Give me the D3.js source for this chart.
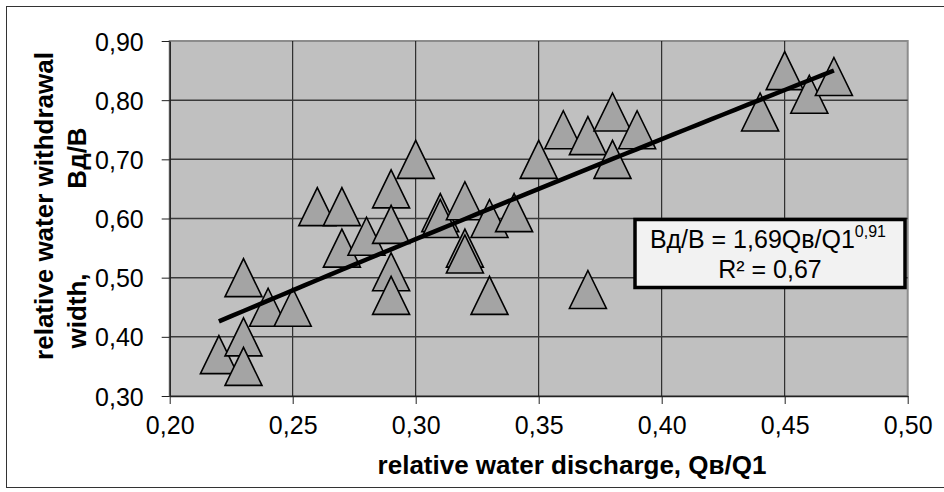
<!DOCTYPE html>
<html>
<head>
<meta charset="utf-8">
<script src="https://cdn.jsdelivr.net/npm/d3@7"></script>
<style>
  body { margin: 0; background: #fff; }
  svg { display: block; font-family: "Liberation Sans", Arial, sans-serif; }
</style>
</head>
<body>
<svg id="chart" width="944" height="492"></svg>
<script>
// data
const discharge = [0.22, 0.23, 0.23, 0.23, 0.24, 0.25, 0.26, 0.27, 0.27, 0.28, 0.29, 0.29, 0.29, 0.29,
  0.30, 0.31, 0.31, 0.32, 0.32, 0.32, 0.33, 0.33, 0.34, 0.35, 0.36, 0.37, 0.37, 0.38, 0.38, 0.39,
  0.44, 0.45, 0.46, 0.47]
const width_ratio = [0.37, 0.50, 0.40, 0.35, 0.45, 0.45, 0.62, 0.62, 0.55, 0.57, 0.65, 0.59, 0.51, 0.47,
  0.70, 0.61, 0.60, 0.63, 0.55, 0.54, 0.60, 0.47, 0.61, 0.70, 0.75, 0.74, 0.48, 0.78, 0.70, 0.75,
  0.78, 0.85, 0.81, 0.84]
const xTicks = [0.20, 0.25, 0.30, 0.35, 0.40, 0.45, 0.50]
const yTicks = [0.30, 0.40, 0.50, 0.60, 0.70, 0.80, 0.90]
// power trendline y = a * x^b
const trendA = 1.69
const trendB = 0.91
const trendRange = [0.22, 0.47]

const points = discharge.map((d, i) => ({ x: d, y: width_ratio[i] }))
const fmt = v => d3.format(".2f")(v).replace(".", ",")

const svg = d3.select('#chart')
const plotL = 169.7, plotR = 907.7, plotT = 41, plotB = 396

const x = d3.scaleLinear().domain([0.2, 0.5]).range([plotL, plotR])
const y = d3.scaleLinear().domain([0.3, 0.9]).range([plotB, plotT])

// outer frame
svg.append('rect')
  .attr('x', 6.5).attr('y', 6.5).attr('width', 960).attr('height', 481)
  .attr('fill', 'none').attr('stroke', '#333').attr('stroke-width', 1)

// plot background
svg.append('rect')
  .attr('x', plotL).attr('y', plotT).attr('width', plotR - plotL).attr('height', plotB - plotT)
  .attr('fill', '#c0c0c0').attr('stroke', '#8c8c8c').attr('stroke-width', 2)

// gridlines
svg.append('g').selectAll('line').data(xTicks.slice(1, -1)).enter().append('line')
  .attr('x1', d => x(d)).attr('x2', d => x(d))
  .attr('y1', plotT).attr('y2', plotB)
  .attr('stroke', '#111').attr('stroke-width', 1)
svg.append('g').selectAll('line').data(yTicks.slice(1, -1)).enter().append('line')
  .attr('x1', plotL).attr('x2', plotR)
  .attr('y1', d => y(d)).attr('y2', d => y(d))
  .attr('stroke', '#3a3a3a').attr('stroke-width', 1.5)

// axes
const xAxis = svg.append('g')
  .attr('transform', `translate(0, ${plotB})`)
  .call(d3.axisBottom(x).tickValues(xTicks).tickFormat(fmt).tickSize(8).tickSizeOuter(0))
const yAxis = svg.append('g')
  .attr('transform', `translate(${plotL}, 0)`)
  .call(d3.axisLeft(y).tickValues(yTicks).tickFormat(fmt).tickSize(8).tickSizeOuter(0))

svg.selectAll('.domain').attr('stroke', '#222').attr('stroke-width', 1.5)
svg.selectAll('.tick line').attr('stroke', '#222')
xAxis.selectAll('text')
  .attr('font-family', '"Liberation Sans", Arial, sans-serif')
  .attr('font-size', '25px').attr('fill', '#000')
  .attr('dy', '0.71em').attr('y', 20)
yAxis.selectAll('text')
  .attr('font-family', '"Liberation Sans", Arial, sans-serif')
  .attr('font-size', '25px').attr('fill', '#000')
  .attr('x', -26).attr('dy', '0.36em')

// triangles
const tri = 'M0,-19L18.5,19L-18.5,19Z'
svg.append('g').selectAll('path').data(points).enter().append('path')
  .attr('d', tri)
  .attr('transform', d => `translate(${x(d.x)}, ${y(d.y)})`)
  .attr('fill', '#a4a4a4')
  .attr('stroke', '#000')
  .attr('stroke-width', 1.6)

// trendline
const trendXs = d3.range(trendRange[0], trendRange[1] + 0.0001, 0.005)
const line = d3.line().x(d => x(d)).y(d => y(trendA * Math.pow(d, trendB)))
svg.append('path')
  .datum(trendXs)
  .attr('d', line)
  .attr('fill', 'none')
  .attr('stroke', '#000')
  .attr('stroke-width', 4.5)

// equation box
svg.append('rect')
  .attr('x', 635).attr('y', 219.5).attr('width', 270).attr('height', 68)
  .attr('fill', '#f2f2f2').attr('stroke', '#000').attr('stroke-width', 3.5)

const eq = svg.append('text')
  .attr('x', 768).attr('y', 248)
  .attr('text-anchor', 'middle')
  .attr('font-size', '25px')
eq.append('tspan').text('Вд/В = 1,69Qв/Q1')
eq.append('tspan').attr('dy', -11).attr('font-size', '16px').text('0,91')

svg.append('text')
  .attr('x', 770).attr('y', 278)
  .attr('text-anchor', 'middle')
  .attr('font-size', '25px')
  .text('R² = 0,67')

// axis titles
svg.append('text')
  .attr('x', 572).attr('y', 474)
  .attr('text-anchor', 'middle')
  .attr('font-size', '26px').attr('font-weight', 'bold')
  .text('relative water discharge, Qв/Q1')

svg.append('text')
  .attr('transform', 'translate(53, 206) rotate(-90)')
  .attr('text-anchor', 'middle')
  .attr('font-size', '26px').attr('font-weight', 'bold')
  .text('relative water withdrawal')
svg.append('text')
  .attr('transform', 'translate(86, 311) rotate(-90)')
  .attr('text-anchor', 'middle')
  .attr('font-size', '26px').attr('font-weight', 'bold')
  .text('width,')
svg.append('text')
  .attr('transform', 'translate(86, 158) rotate(-90)')
  .attr('text-anchor', 'middle')
  .attr('font-size', '26px').attr('font-weight', 'bold')
  .text('Вд/В')
</script>
</body>
</html>
